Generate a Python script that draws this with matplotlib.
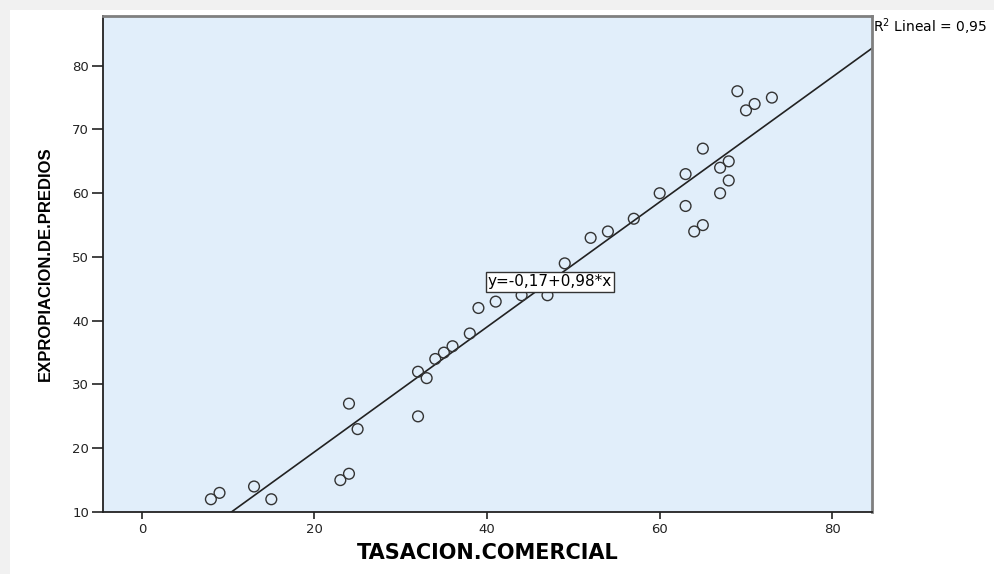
import numpy as np
import matplotlib
matplotlib.use("Agg")
from matplotlib import pyplot as plt
from matplotlib import font_manager
from matplotlib.patches import Rectangle

# data
tasacion = [8, 9, 13, 15, 23, 24, 24, 25, 32, 32, 33, 34, 35, 36, 38, 39, 41,
            44, 47, 49, 52, 54, 57, 60, 63, 63, 64, 65, 65, 67, 67, 68, 68,
            69, 70, 71, 73]
expropiacion = [12, 13, 14, 12, 15, 16, 27, 23, 25, 32, 31, 34, 35, 36, 38, 42, 43,
                44, 44, 49, 53, 54, 56, 60, 58, 63, 54, 55, 67, 60, 64, 62, 65,
                76, 73, 74, 75]
intercept = -0.17
slope = 0.98
r2 = 0.95
x_ticks = [0, 20, 40, 60, 80]
y_ticks = [10, 20, 30, 40, 50, 60, 70, 80]

plt.rcParams['font.family'] = ['DejaVu Sans']

# narrow bold face for the y label if there is one
names = {f.name for f in font_manager.fontManager.ttflist}
if "Liberation Sans Narrow" in names:
    ylab_font = dict(family=["Liberation Sans Narrow", "DejaVu Sans"], fontsize=14)
else:
    ylab_font = dict(family=["Liberation Sans", "DejaVu Sans"], fontsize=12)

fig = plt.figure(figsize=(9.95, 5.74), dpi=100)
fig.patch.set_facecolor("#f1f1f1")
# white panel of the viewer
fig.add_artist(Rectangle((10 / 995, 0), 1, 1 - 10 / 574, transform=fig.transFigure,
                         facecolor="white", edgecolor="none", zorder=0))

ax = fig.add_axes([103 / 995, 62 / 574, 769 / 995, 496 / 574])
ax.set_facecolor("#e1eefa")

ax.scatter(tasacion, expropiacion, s=60, facecolors="none", edgecolors="#333333",
           linewidths=1.0, zorder=3)

xlim = (-4.5, 84.6)
xs = np.array(xlim)
ax.plot(xs, intercept + slope * xs, color="#222222", lw=1.2, zorder=2)

ax.set_xlim(xlim)
ax.set_ylim(10, 87.8)
ax.set_xticks(x_ticks)
ax.set_yticks(y_ticks)
ax.tick_params(axis="both", direction="out", width=1.2, labelsize=9.5,
               colors="#222222")
ax.tick_params(axis="y", length=8, pad=2)
ax.tick_params(axis="x", length=5, pad=3)

for side in ["left", "bottom"]:
    ax.spines[side].set_color("#222222")
    ax.spines[side].set_linewidth(1.3)
for side in ["top", "right"]:
    ax.spines[side].set_color("#7f7f7f")
    ax.spines[side].set_linewidth(2)

ax.set_xlabel("TASACION.COMERCIAL", fontsize=15, fontweight="bold", labelpad=5)
ax.set_ylabel("EXPROPIACION.DE.PREDIOS", fontweight="bold", labelpad=14, **ylab_font)

ax.text(47.3, 46.1, "y=-0,17+0,98*x", ha="center", va="center", fontsize=11,
        bbox=dict(boxstyle="square,pad=0.15", facecolor="white", edgecolor="#333333",
                  linewidth=1.0), zorder=4)

fig.text(873 / 995, 1 - 27 / 574, "R$^2$ Lineal = 0,95", ha="left", va="center",
         fontsize=10)

plt.savefig("out.png", dpi=100)
